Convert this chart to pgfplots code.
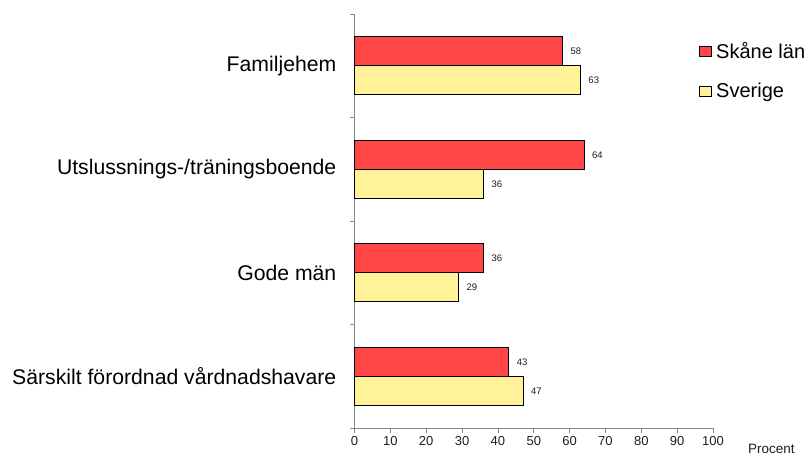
\documentclass[border=0pt]{standalone}
\usepackage{pgfplots}
\pgfplotsset{compat=1.18}
\usepackage{fontspec}
\setmainfont{Liberation Sans}
\definecolor{skred}{RGB}{255,69,69}
\definecolor{svyel}{RGB}{255,242,153}
\definecolor{axgray}{RGB}{134,134,134}
\definecolor{txt}{RGB}{30,30,30}
\begin{document}
\begin{tikzpicture}
\path[use as bounding box] (0,0) rectangle (806bp,456bp);
\begin{axis}[
  at={(354.5bp,28bp)}, anchor=south west,
  scale only axis, width=358.5bp, height=414bp,
  xbar,
  bar width=29bp,
  xmin=0, xmax=100, ymin=-0.5, ymax=3.5,
  xtick={0,10,...,100},
  ytick={0,1,2,3},
  yticklabels={Särskilt förordnad vårdnadshavare, Gode män, Utslussnings-/träningsboende, Familjehem},
  minor ytick={-0.5,0.5,1.5,2.5,3.5},
  axis x line*=bottom, axis y line*=left,
  axis line style={axgray, line width=0.8bp, -},
  tick align=outside,
  major tick length=5bp,
  minor tick length=5bp,
  every major y tick/.style={draw=none},
  every minor y tick/.style={axgray, line width=0.8bp},
  every major x tick/.style={axgray, line width=0.8bp},
  /pgf/number format/assume math mode=true,
  xticklabel style={font=\fontsize{13bp}{15bp}\selectfont, text=txt},
  yticklabel style={font=\fontsize{21.2bp}{24bp}\selectfont, inner sep=0pt, anchor=east, xshift=-13bp, text=black},
  xlabel={Procent},
  xlabel style={at={(axis description cs:1.163,-0.051)}, anchor=center, font=\fontsize{13.5bp}{15bp}\selectfont, text=txt},
  nodes near coords,
  point meta=explicit symbolic,
  every node near coord/.append style={font=\fontsize{9.5bp}{11bp}\selectfont, text=txt, anchor=west, xshift=4.5bp},
  legend style={at={(axis description cs:0.961,0.935)}, anchor=north west, draw=none, fill=none,
    font=\fontsize{20bp}{22bp}\selectfont, row sep=20bp, inner sep=0pt,
    nodes={inner sep=1.5bp},
    /tikz/every odd column/.append style={column sep=3bp}},
  legend cell align=left,
  clip=false,
]
\addplot[fill=skred, draw=black, line width=0.6bp, bar shift=14.5bp,
  legend image code/.code={\draw[fill=skred, draw=black, line width=0.5bp] (0bp,-5bp) rectangle (12bp,5bp);}]
  table[meta=v] {
x y v
58 3 58
64 2 64
36 1 36
43 0 43
};
\addlegendentry{Skåne län}
\addplot[fill=svyel, draw=black, line width=0.6bp, bar shift=-14.5bp,
  legend image code/.code={\draw[fill=svyel, draw=black, line width=0.5bp] (0bp,-5bp) rectangle (12bp,5bp);}]
  table[meta=v] {
x y v
63 3 63
36 2 36
29 1 29
47 0 47
};
\addlegendentry{Sverige}
\end{axis}
\end{tikzpicture}
\end{document}
